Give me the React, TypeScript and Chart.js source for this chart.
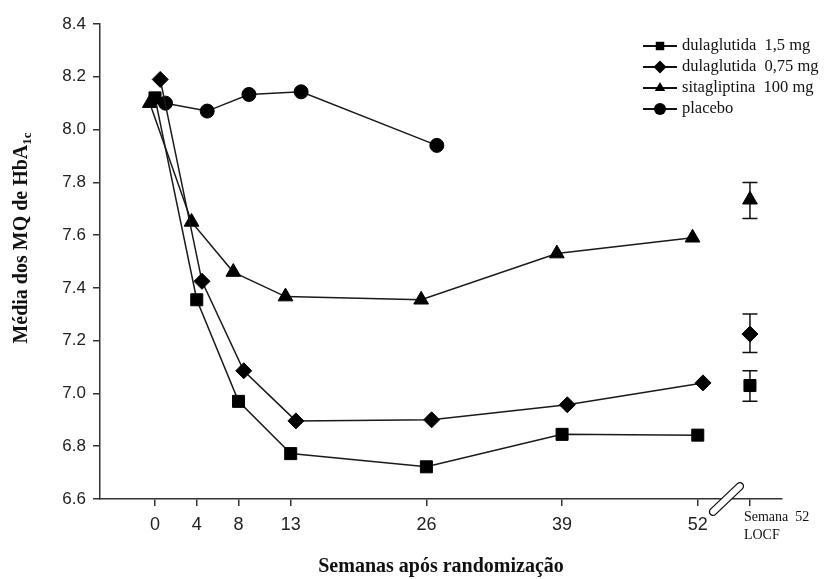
import React, { useEffect, useRef } from 'react';
import { Chart, registerables } from 'chart.js';

Chart.register(...registerables);

// ---- data ----
const weeks = [0, 4, 8, 13, 26, 39, 52];
const placeboWeeks = [0, 4, 8, 13, 26];
const dula15 = [8.12, 7.355, 6.97, 6.772, 6.722, 6.845, 6.842];
const dula075 = [8.19, 7.425, 7.086, 6.896, 6.9, 6.957, 7.04];
const sita100 = [8.1, 7.65, 7.46, 7.367, 7.355, 7.53, 7.59];
const placebo = [8.1, 8.07, 8.133, 8.143, 7.94];
const seriesNames = ['dulaglutida  1,5 mg', 'dulaglutida  0,75 mg', 'sitagliptina  100 mg', 'placebo'];
const seriesDodge = [0, 0.5, -0.5, 1];
const locfWeek = 57;
const locfLabel = ['Semana  52', 'LOCF'];
const locfMean = [7.03, 7.225, 7.734];
const locfLow = [6.97, 7.155, 7.663];
const locfHigh = [7.086, 7.301, 7.799];
const xTicks = [0, 4, 8, 13, 26, 39, 52, 57];
const yMin = 6.6;
const yMax = 8.4;
const yStep = 0.2;
const xTitle = 'Semanas após randomização';
const yTitleMain = 'Média dos MQ de HbA';
const yTitleSub = '1c';

const styles = ['rect', 'rectRot', 'triangle', 'circle'];
const radii = [8.5, 8, 8.5, 7];
const SERIF = '"Liberation Serif", "Times New Roman", serif';
const SANS = '"Liberation Sans", Arial, sans-serif';

function drawMarker(ctx: CanvasRenderingContext2D, style: string, x: number, y: number, r: number) {
  ctx.beginPath();
  if (style === 'rect') {
    const s = r * Math.SQRT1_2;
    ctx.rect(x - s, y - s, 2 * s, 2 * s);
  } else if (style === 'rectRot') {
    ctx.moveTo(x, y - r);
    ctx.lineTo(x + r, y);
    ctx.lineTo(x, y + r);
    ctx.lineTo(x - r, y);
    ctx.closePath();
  } else if (style === 'triangle') {
    ctx.moveTo(x, y - r);
    ctx.lineTo(x + r * 0.866, y + r / 2);
    ctx.lineTo(x - r * 0.866, y + r / 2);
    ctx.closePath();
  } else {
    ctx.arc(x, y, r, 0, Math.PI * 2);
  }
  ctx.fill();
}

const decorPlugin = {
  id: 'decor',
  beforeDatasetsDraw(chart: any) {
    const ctx = chart.ctx as CanvasRenderingContext2D;
    const xs = chart.scales.x;
    const ys = chart.scales.y;
    const px = xs.getPixelForValue(locfWeek);
    ctx.save();
    ctx.strokeStyle = '#111';
    ctx.lineWidth = 1.5;
    for (let i = 0; i < locfMean.length; i++) {
      const yl = ys.getPixelForValue(locfLow[i]);
      const yh = ys.getPixelForValue(locfHigh[i]);
      ctx.beginPath();
      ctx.moveTo(px, yl);
      ctx.lineTo(px, yh);
      ctx.moveTo(px - 7.5, yl);
      ctx.lineTo(px + 7.5, yl);
      ctx.moveTo(px - 7.5, yh);
      ctx.lineTo(px + 7.5, yh);
      ctx.stroke();
    }
    ctx.restore();
  },
  afterDraw(chart: any) {
    const ctx = chart.ctx as CanvasRenderingContext2D;
    const xs = chart.scales.x;
    const area = chart.chartArea;
    ctx.save();
    // axis break symbol
    const bx = xs.getPixelForValue(54.75);
    const by = area.bottom;
    ctx.translate(bx, by);
    ctx.rotate(-0.76);
    ctx.beginPath();
    const L = 18.5, W = 3.6;
    ctx.moveTo(-L, -W);
    ctx.lineTo(L, -W);
    ctx.arc(L, 0, W, -Math.PI / 2, Math.PI / 2);
    ctx.lineTo(-L, W);
    ctx.arc(-L, 0, W, Math.PI / 2, Math.PI * 1.5);
    ctx.closePath();
    ctx.fillStyle = '#fff';
    ctx.fill();
    ctx.strokeStyle = '#111';
    ctx.lineWidth = 1.3;
    ctx.stroke();
    ctx.restore();

    // LOCF label
    ctx.save();
    ctx.fillStyle = '#111';
    ctx.font = '14px ' + SERIF;
    ctx.textAlign = 'left';
    ctx.textBaseline = 'middle';
    const lx = xs.getPixelForValue(locfWeek) - 6;
    ctx.fillText(locfLabel[0], lx, area.bottom + 18);
    ctx.fillText(locfLabel[1], lx, area.bottom + 36);
    ctx.restore();

    // y axis title with subscript
    ctx.save();
    ctx.fillStyle = '#111';
    ctx.font = 'bold 20px ' + SERIF;
    const mainW = ctx.measureText(yTitleMain).width;
    ctx.font = 'bold 13px ' + SERIF;
    const subW = ctx.measureText(yTitleSub).width;
    const total = mainW + subW;
    const cy = 238;
    ctx.translate(22, cy);
    ctx.rotate(-Math.PI / 2);
    ctx.textBaseline = 'middle';
    ctx.textAlign = 'left';
    ctx.font = 'bold 20px ' + SERIF;
    ctx.fillText(yTitleMain, -total / 2, 0);
    ctx.font = 'bold 13px ' + SERIF;
    ctx.fillText(yTitleSub, -total / 2 + mainW, 6);
    ctx.restore();

    // legend
    ctx.save();
    ctx.font = '16.5px ' + SERIF;
    ctx.textBaseline = 'middle';
    ctx.textAlign = 'left';
    for (let i = 0; i < seriesNames.length; i++) {
      const y = 46 + i * 21;
      ctx.strokeStyle = '#111';
      ctx.lineWidth = 2;
      ctx.beginPath();
      ctx.moveTo(643, y);
      ctx.lineTo(677, y);
      ctx.stroke();
      ctx.fillStyle = '#000';
      drawMarker(ctx, styles[i], 660, y, i === 1 ? 6.5 : 6);
      ctx.fillStyle = '#111';
      ctx.fillText(seriesNames[i], 682, y);
    }
    ctx.restore();
  },
};

export default function App() {
  const ref = useRef<HTMLCanvasElement | null>(null);
  useEffect(() => {
    if (!ref.current) return;
    const seriesY = [dula15, dula075, sita100, placebo];
    const seriesX = [weeks, weeks, weeks, placeboWeeks];
    const datasets: any[] = seriesY.map((vals, i) => ({
      label: seriesNames[i],
      data: vals.map((v, j) => ({ x: seriesX[i][j] + seriesDodge[i], y: v })),
      showLine: true,
      borderColor: '#1a1a1a',
      borderWidth: 1.5,
      backgroundColor: '#000',
      pointBackgroundColor: '#000',
      pointBorderColor: '#000',
      pointBorderWidth: 1,
      pointStyle: styles[i],
      pointRadius: radii[i],
      pointHoverRadius: radii[i],
    }));
    locfMean.forEach((v, i) => {
      datasets.push({
        label: seriesNames[i] + ' LOCF',
        data: [{ x: locfWeek, y: v }],
        showLine: false,
        backgroundColor: '#000',
        pointBackgroundColor: '#000',
        pointBorderColor: '#000',
        pointBorderWidth: 1,
        pointStyle: styles[i],
        pointRadius: radii[i],
      });
    });
    const chart = new Chart(ref.current, {
      type: 'scatter',
      data: { datasets },
      plugins: [decorPlugin],
      options: {
        animation: false,
        responsive: false,
        devicePixelRatio: 1,
        layout: { padding: { top: 24, right: 45, left: 0, bottom: 0 } },
        plugins: { legend: { display: false }, tooltip: { enabled: false } },
        scales: {
          x: {
            type: 'linear',
            min: -5.27,
            max: 60.07,
            afterBuildTicks: (s: any) => {
              s.ticks = xTicks.map((v) => ({ value: v }));
            },
            afterFit: (s: any) => {
              s.height = 80;
            },
            ticks: {
              autoSkip: false,
              maxRotation: 0,
              padding: 8,
              color: '#222',
              font: { family: SANS, size: 18 },
              callback: (v: any) => (v === locfWeek ? '' : String(v)),
            },
            grid: { drawOnChartArea: false, drawTicks: true, tickLength: 7, color: '#333', lineWidth: 1.5 },
            border: { color: '#333', width: 1.5 },
            title: {
              display: true,
              text: xTitle,
              color: '#111',
              font: { family: SERIF, size: 20, weight: 'bold' },
              padding: 0,
            },
          },
          y: {
            min: yMin,
            max: yMax,
            afterFit: (s: any) => {
              s.width = 100;
            },
            ticks: {
              stepSize: yStep,
              padding: 7,
              color: '#222',
              font: { family: SANS, size: 17 },
              callback: (v: any) => Number(v).toFixed(1),
            },
            grid: { drawOnChartArea: false, drawTicks: true, tickLength: 7, color: '#333', lineWidth: 1.5 },
            border: { color: '#333', width: 1.5 },
          },
        },
      } as any,
    });
    return () => chart.destroy();
  }, []);
  return (
    <div style={{ position: 'absolute', left: 0, top: 0, width: 827, height: 579, background: '#fff' }}>
      <canvas ref={ref} width={827} height={579} style={{ width: 827, height: 579, display: 'block' }} />
    </div>
  );
}
